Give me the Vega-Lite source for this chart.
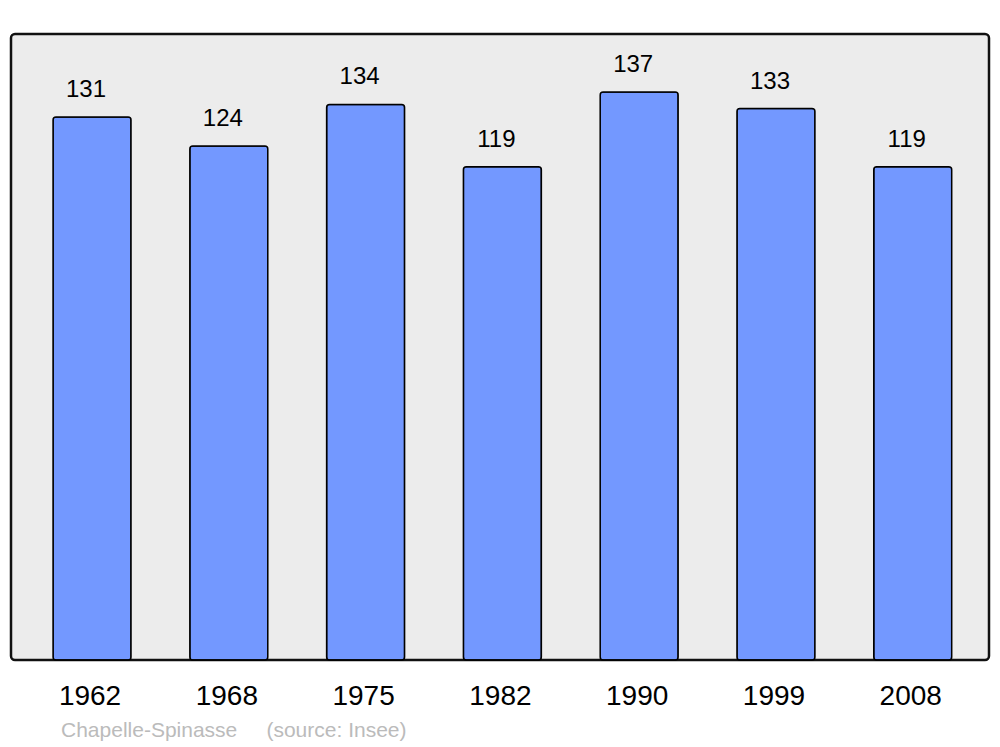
{
  "$schema": "https://vega.github.io/schema/vega-lite/v6.json",
  "width": 978,
  "height": 626,
  "autosize": {"type": "none"},
  "padding": {"left": 11, "top": 34, "right": 11, "bottom": 87},
  "background": "white",
  "config": {
    "font": "Liberation Sans",
    "view": {"fill": "#ececec", "stroke": "#111111", "strokeWidth": 2.5, "cornerRadius": 4}
  },
  "title": {
    "text": "Chapelle-Spinasse\u00a0\u00a0\u00a0\u00a0 (source: Insee)",
    "orient": "bottom",
    "anchor": "start",
    "dx": 50,
    "offset": 10,
    "fontSize": 21,
    "fontWeight": "normal",
    "color": "#bbbbbb",
    "font": "Liberation Sans"
  },
  "data": {
    "values": [
      {"year": "1962", "population": 131},
      {"year": "1968", "population": 124},
      {"year": "1975", "population": 134},
      {"year": "1982", "population": 119},
      {"year": "1990", "population": 137},
      {"year": "1999", "population": 133},
      {"year": "2008", "population": 119}
    ]
  },
  "encoding": {
    "x": {
      "field": "year",
      "type": "nominal",
      "sort": null,
      "scale": {"paddingInner": 0.43, "paddingOuter": 0.29, "align": 0.53},
      "axis": {
        "title": null,
        "labelAngle": 0,
        "labelFontSize": 28,
        "labelColor": "#000000",
        "labelPadding": 22,
        "labelOffset": -2,
        "ticks": false,
        "domain": false,
        "grid": false
      }
    },
    "y": {
      "field": "population",
      "type": "quantitative",
      "scale": {"domain": [0, 151], "nice": false, "zero": true},
      "axis": null
    }
  },
  "layer": [
    {
      "mark": {"type": "bar", "color": "#7398ff", "stroke": "#000000", "strokeWidth": 1.5, "cornerRadius": 3}
    },
    {
      "mark": {"type": "text", "baseline": "alphabetic", "align": "center", "dy": -20, "dx": -6, "fontSize": 24, "color": "#000000"},
      "encoding": {"text": {"field": "population", "type": "quantitative"}}
    }
  ]
}
